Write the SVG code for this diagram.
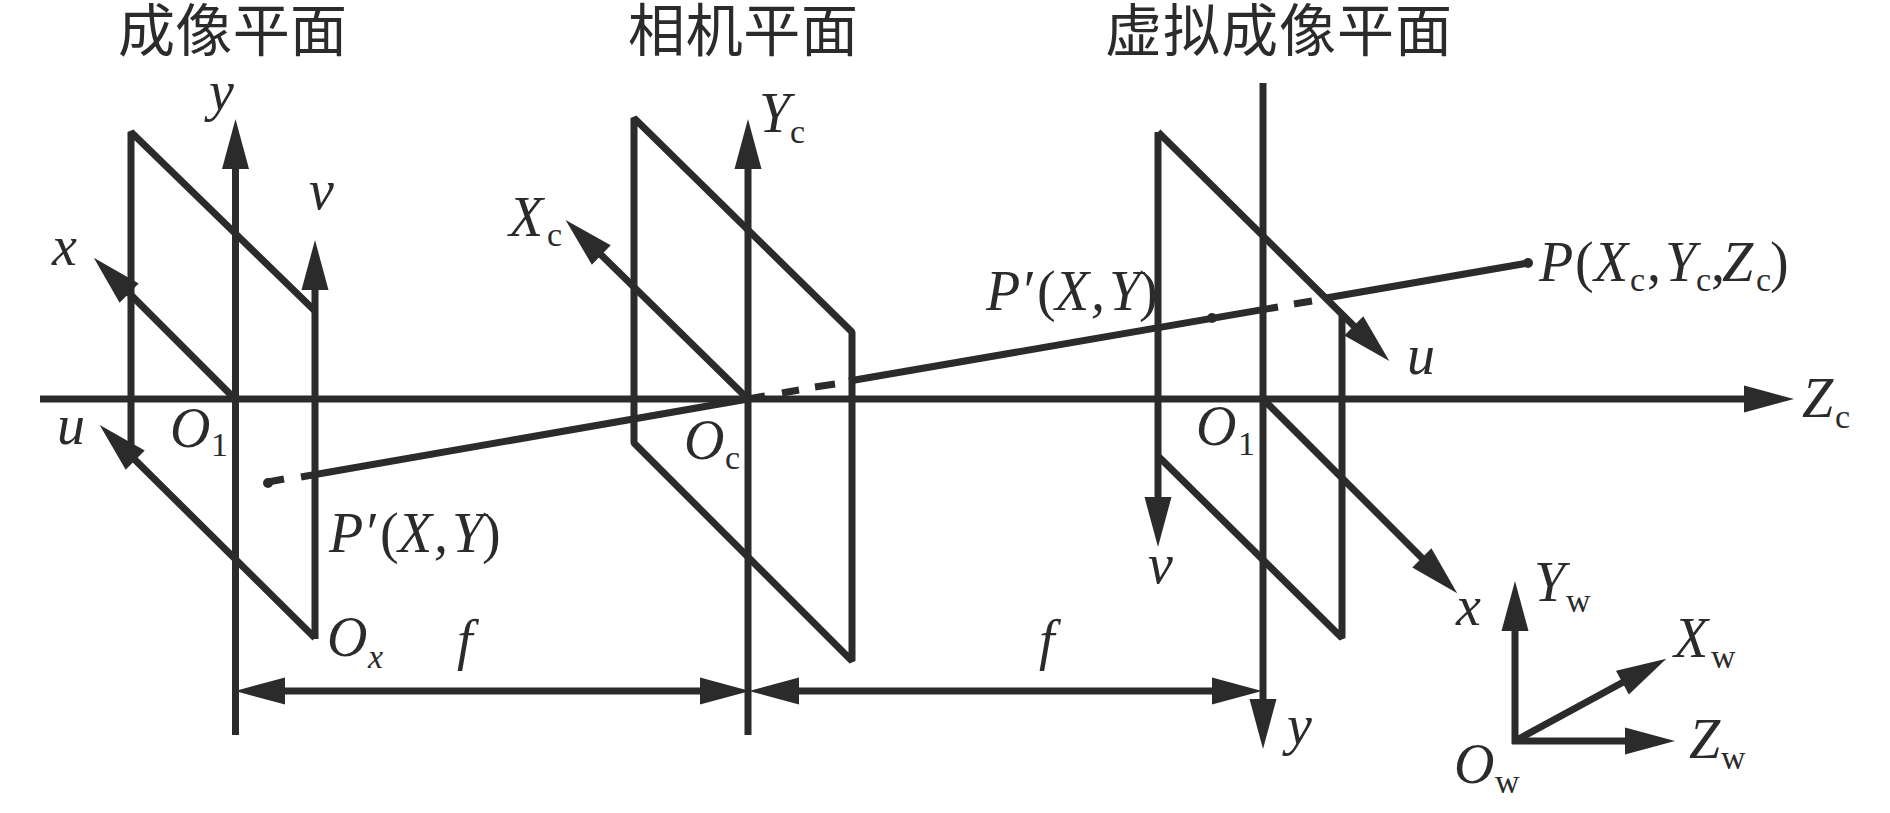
<svg xmlns="http://www.w3.org/2000/svg" width="1890" height="813" viewBox="0 0 1890 813">
<style>
.l{fill:none;stroke:#2b2b2b;stroke-width:7;stroke-linejoin:bevel}
.a{marker-end:url(#arr)}
text{fill:#2b2b2b;font-family:"Liberation Serif","Noto Sans CJK SC",serif}
.t{font-size:57px}
.i{font-size:56px;font-style:italic}
.s{font-size:34px;font-style:normal}
.si{font-size:34px;font-style:italic}
.r{font-size:56px;font-style:normal}
</style>
<defs>
<marker id="arr" markerUnits="userSpaceOnUse" markerWidth="50" markerHeight="27" refX="20" refY="13.5" orient="auto" overflow="visible"><path d="M0 0L50 13.5L0 27Z" fill="#2b2b2b"/></marker>
</defs>
<rect width="1890" height="813" fill="#fff"/>
<g id="connectors">
<path class="l a" d="M40 399H1764"/>
<path class="l" d="M268 482L284 479M301 477L748 399L765 396M782 393L799 390M815 387L835 384M849 381L1278 307M1294 304L1312 301M1326 298L1528 263"/>
<circle cx="268" cy="483" r="5" fill="#2b2b2b"/>
<circle cx="1212" cy="318" r="5" fill="#2b2b2b"/>
<circle cx="1528" cy="263" r="5" fill="#2b2b2b"/>
<path class="l a" d="M492 691H265"/>
<path class="l a" d="M492 691H720"/>
<path class="l a" d="M1006 691H779"/>
<path class="l a" d="M1006 691H1232"/>
</g>
<g id="image-plane">
<path class="l" d="M131 448V132L315 311"/>
<path class="l a" d="M235.500 735V149"/>
<path class="l a" d="M315 639V270"/>
<path class="l a" d="M235 399L115 279"/>
<path class="l a" d="M315 638L121 446"/>
<text class="t" x="118" y="51" textLength="229">成像平面</text>
<text class="i" x="209" y="110">y</text>
<text class="i" x="309" y="209">v</text>
<text class="i" x="52" y="265">x</text>
<text class="i" x="57" y="444">u</text>
<text class="i" x="170" y="447">O</text><text class="s" x="211" y="456">1</text>
<text class="i" x="329" y="552">P′<tspan class="r" x="380">(</tspan><tspan x="398">X</tspan><tspan x="434">,</tspan><tspan x="452">Y</tspan><tspan class="r" x="482">)</tspan></text>
<text class="i" x="327" y="656">O</text><text class="si" x="368" y="668">x</text>
<text class="i" x="457" y="659">f</text>
</g>
<g id="camera-plane">
<path class="l" d="M634 118V443L852 661V332L634 118Z"/>
<path class="l a" d="M748 735V149"/>
<path class="l a" d="M748 399L587 241"/>
<text class="t" x="628" y="51" textLength="230">相机平面</text>
<text class="i" x="509" y="236">X</text><text class="s" x="547" y="246">c</text>
<text class="i" x="759" y="132">Y</text><text class="s" x="790" y="143">c</text>
<text class="i" x="684" y="459">O</text><text class="s" x="725" y="469">c</text>
</g>
<g id="virtual-plane">
<path class="l a" d="M1158 132V517"/>
<path class="l a" d="M1158 132L1368 340"/>
<path class="l" d="M1342 316V638L1158 456"/>
<path class="l a" d="M1263 83V719"/>
<path class="l a" d="M1263 399L1436 572"/>
<text class="t" x="1105" y="51" textLength="347">虚拟成像平面</text>
<text class="i" x="986" y="310">P′<tspan class="r" x="1037">(</tspan><tspan x="1055">X</tspan><tspan x="1091">,</tspan><tspan x="1109">Y</tspan><tspan class="r" x="1139">)</tspan></text>
<text class="i" x="1196" y="445">O</text><text class="s" x="1238" y="455">1</text>
<text class="i" x="1148" y="583">v</text>
<text class="i" x="1039" y="659">f</text>
<text class="i" x="1407" y="374">u</text>
<text class="i" x="1456" y="625">x</text>
<text class="i" x="1287" y="744">y</text>
</g>
<g id="point-p">
<text class="i" x="1539" y="281">P</text><text class="r" x="1575" y="281">(</text>
<text class="i" x="1594" y="281">X</text><text class="s" x="1630" y="291">c</text><text class="r" x="1647" y="281">,</text>
<text class="i" x="1665" y="281">Y</text><text class="s" x="1696" y="291">c</text><text class="r" x="1711" y="281">,</text>
<text class="i" x="1722" y="281">Z</text><text class="s" x="1756" y="291">c</text><text class="r" x="1770" y="281">)</text>
</g>
<g id="zc-label">
<text class="i" x="1802" y="417">Z</text><text class="s" x="1835" y="428">c</text>
</g>
<g id="world-frame">
<path class="l a" d="M1515 744V611"/>
<path class="l a" d="M1515 741L1640 673"/>
<path class="l a" d="M1512 741H1645"/>
<text class="i" x="1534" y="601">Y</text><text class="s" x="1566" y="612">w</text>
<text class="i" x="1674" y="657">X</text><text class="s" x="1711" y="668">w</text>
<text class="i" x="1689" y="758">Z</text><text class="s" x="1721" y="769">w</text>
<text class="i" x="1454" y="783">O</text><text class="s" x="1495" y="793">w</text>
</g>
</svg>
